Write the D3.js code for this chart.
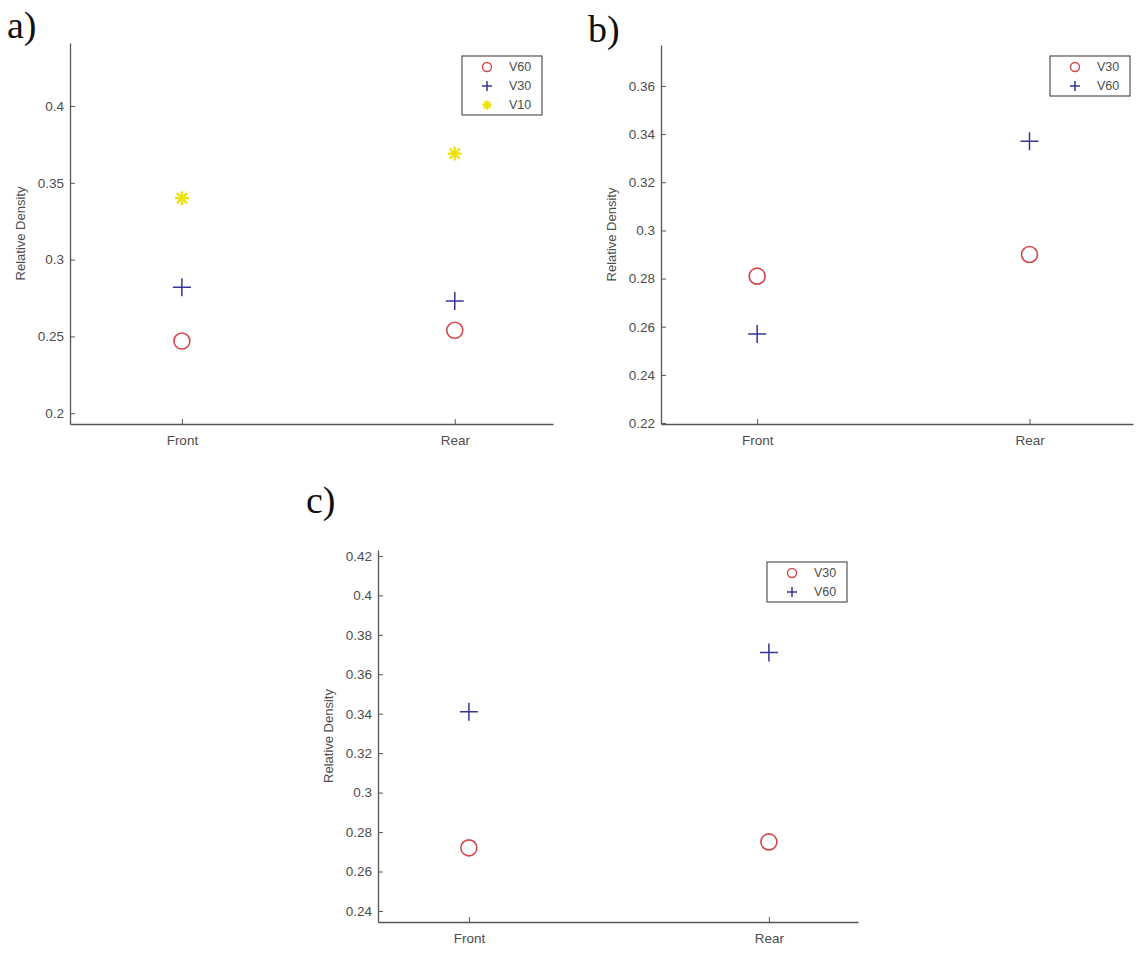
<!DOCTYPE html>
<html>
<head>
<meta charset="utf-8">
<script src="https://cdn.jsdelivr.net/npm/d3@7"></script>
<style>
  body { margin:0; background:#fff; }
  text { font-family: "Liberation Sans", Arial, sans-serif; }
</style>
</head>
<body>
<svg></svg>
<script>

//******************************data*****************************//
var categories = ["Front", "Rear"];

// panel a
var aV60 = [0.247, 0.254];
var aV30 = [0.282, 0.273];
var aV10 = [0.340, 0.369];
var aTicks = [0.2, 0.25, 0.3, 0.35, 0.4];

// panel b
var bV30 = [0.281, 0.290];
var bV60 = [0.257, 0.337];
var bTicks = [0.22, 0.24, 0.26, 0.28, 0.3, 0.32, 0.34, 0.36];

// panel c
var cV30 = [0.272, 0.275];
var cV60 = [0.341, 0.371];
var cTicks = [0.24, 0.26, 0.28, 0.3, 0.32, 0.34, 0.36, 0.38, 0.4, 0.42];

//*****************************marker shapes********************************//
var plusShape = {
  draw: function(ctx, size) {
    var r = Math.sqrt(size) / 2;
    ctx.moveTo(-r, 0); ctx.lineTo(r, 0);
    ctx.moveTo(0, -r); ctx.lineTo(0, r);
  }
};
var starShape = {
  draw: function(ctx, size) {
    var r = Math.sqrt(size) / 2;
    var k = r * 0.72;
    ctx.moveTo(-r, 0); ctx.lineTo(r, 0);
    ctx.moveTo(0, -r); ctx.lineTo(0, r);
    ctx.moveTo(-k, -k); ctx.lineTo(k, k);
    ctx.moveTo(-k, k); ctx.lineTo(k, -k);
  }
};

var styles = {
  circle: { color: "#d2484c" },
  plus:   { color: "#34349a" },
  star:   { color: "#f0e200" }
};

var screen = { width:1137, height:957 };
var svg = d3.select("svg")
  .attr("width", screen.width)
  .attr("height", screen.height);

var fmt = function(d) { return String(+d.toFixed(2)); };

var drawMarker = function(g, type, x, y, big)
{
  if (type == "circle") {
    g.append("circle")
      .attr("cx", x).attr("cy", y)
      .attr("r", big ? 8 : 4.5)
      .attr("fill", "none")
      .attr("stroke", styles.circle.color)
      .attr("stroke-width", big ? 1.6 : 1.4);
  }
  else {
    var sz = big ? 18 : 10;
    if (type == "star") sz = big ? 14 : 9;
    g.append("path")
      .attr("transform", "translate(" + x + "," + y + ")")
      .attr("d", d3.symbol().type(type == "plus" ? plusShape : starShape).size(sz * sz)())
      .attr("fill", "none")
      .attr("stroke", styles[type].color)
      .attr("stroke-width", type == "star" ? (big ? 2.2 : 2) : 1.5);
  }
};

var drawPanel = function(p)
{
  var g = svg.append("g").classed("panel", true);

  var xScale = d3.scaleLinear()
    .domain(p.xDomain)
    .range([p.left, p.right]);
  var yScale = d3.scaleLinear()
    .domain(p.yDomain)
    .range([p.bottom, p.top]);

  // y axis (ticks inward, MATLAB style)
  var yAxis = d3.axisLeft(yScale)
    .tickValues(p.ticks)
    .tickFormat(fmt)
    .tickSizeInner(-5)
    .tickSizeOuter(0)
    .tickPadding(6);
  var ya = g.append("g")
    .attr("transform", "translate(" + p.left + ",0)")
    .call(yAxis);

  var xAxis = d3.axisBottom(xScale)
    .tickValues([1, 2])
    .tickFormat(function(d) { return categories[d - 1]; })
    .tickSizeInner(-5)
    .tickSizeOuter(0)
    .tickPadding(11);
  var xa = g.append("g")
    .attr("transform", "translate(0," + p.bottom + ")")
    .call(xAxis);

  [ya, xa].forEach(function(a) {
    a.select(".domain").attr("stroke", "#555").attr("stroke-width", 1.3);
    a.selectAll(".tick line").attr("stroke", "#555");
    a.selectAll(".tick text")
      .attr("fill", "#4d4d4d")
      .style("font-size", "13.5px");
  });

  // axis label
  g.append("text")
    .attr("transform", "translate(" + (p.left - 50) + "," + ((p.top + p.bottom) / 2) + ") rotate(-90)")
    .attr("text-anchor", "middle")
    .attr("dy", "0.35em")
    .attr("fill", "#4d4d4d")
    .style("font-size", "13px")
    .text("Relative Density");

  // panel letter
  g.append("text")
    .attr("x", p.letterX)
    .attr("y", p.letterY)
    .style("font-family", "'Liberation Serif', 'Times New Roman', serif")
    .style("font-size", "38px")
    .attr("fill", "#111")
    .text(p.letter);

  // points
  p.series.forEach(function(s) {
    s.values.forEach(function(v, i) {
      drawMarker(g, s.shape, xScale(i + 1), yScale(v), true);
    });
  });

  // legend
  var lg = g.append("g")
    .attr("transform", "translate(" + p.legendX + "," + p.legendY + ")");
  lg.append("rect")
    .attr("x", 0).attr("y", 0)
    .attr("width", 80)
    .attr("height", p.series.length * 19 + 2)
    .attr("fill", "#fff")
    .attr("stroke", "#555")
    .attr("stroke-width", 1.2);
  p.series.forEach(function(s, i) {
    var yy = 11 + i * 19;
    drawMarker(lg, s.shape, 25, yy, false);
    lg.append("text")
      .attr("x", 47)
      .attr("y", yy)
      .attr("dy", "0.35em")
      .attr("fill", "#4d4d4d")
      .style("font-size", "12.5px")
      .text(s.name);
  });
};

drawPanel({
  letter:"a)", letterX:7, letterY:38,
  left:70, right:553, top:43, bottom:424,
  xDomain:[0.59, 2.36], yDomain:[0.193, 0.441], ticks:aTicks,
  legendX:462, legendY:56,
  series:[
    {name:"V60", shape:"circle", values:aV60},
    {name:"V30", shape:"plus", values:aV30},
    {name:"V10", shape:"star", values:aV10}
  ]
});

drawPanel({
  letter:"b)", letterX:588, letterY:42,
  left:661, right:1133, top:45, bottom:424,
  xDomain:[0.647, 2.38], yDomain:[0.2196, 0.377], ticks:bTicks,
  legendX:1050, legendY:56,
  series:[
    {name:"V30", shape:"circle", values:bV30},
    {name:"V60", shape:"plus", values:bV60}
  ]
});

drawPanel({
  letter:"c)", letterX:306, letterY:513,
  left:378, right:858, top:550, bottom:922,
  xDomain:[0.697, 2.297], yDomain:[0.2344, 0.423], ticks:cTicks,
  legendX:767, legendY:562,
  series:[
    {name:"V30", shape:"circle", values:cV30},
    {name:"V60", shape:"plus", values:cV60}
  ]
});

</script>
</body>
</html>
